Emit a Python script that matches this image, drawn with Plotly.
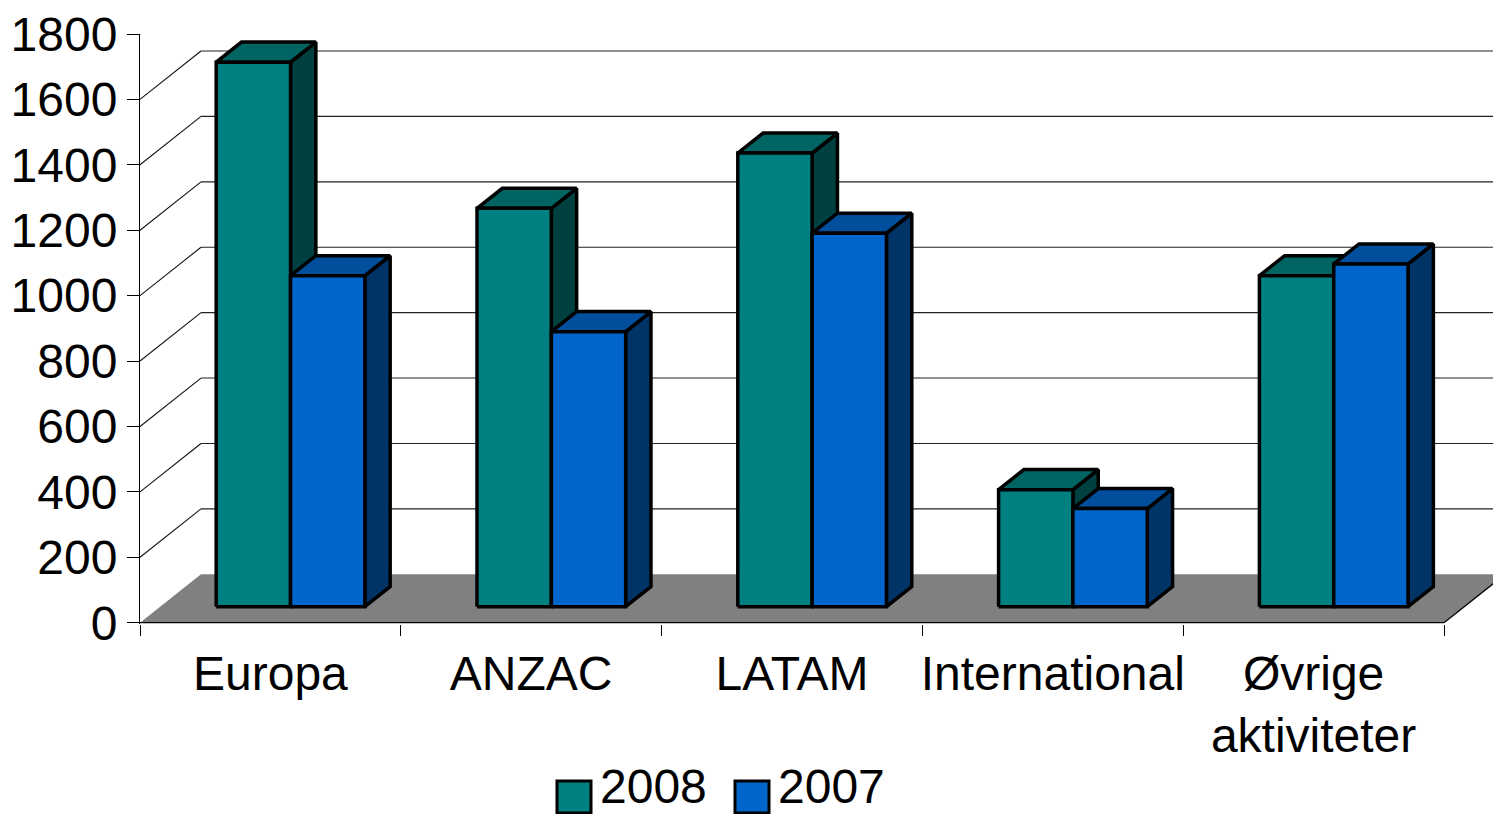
import plotly.graph_objects as go

# ---- data -------------------------------------------------------------
categories = ["Europa", "ANZAC", "LATAM", "International", "Øvrige<br>aktiviteter"]
series_names = ["2008", "2007"]
values_2008 = [1665, 1218, 1387, 358, 1012]
values_2007 = [1012, 841, 1142, 300, 1048]
y_tick_values = [0, 200, 400, 600, 800, 1000, 1200, 1400, 1600, 1800]

# ---- styling ------------------------------------------------------------
FONT = "Liberation Sans, Arial, sans-serif"
FACE_COLORS = {
    "2008": {"front": "#008080", "top": "#006462", "side": "#004040"},
    "2007": {"front": "#0066CC", "top": "#004E9C", "side": "#003366"},
}
FLOOR_COLOR = "#808080"
EDGE = "black"

# figure / plot-area geometry (pixels)
W, H = 1493, 814
M_L, M_T, M_B, M_R = 140, 34, 190, 0
PLOT_W = W - M_L - M_R
PLOT_H = H - M_T - M_B
CAT_PX = 260.8                      # width of one category slot
Y_MIN, Y_MAX = -4, 1800

# oblique depth offsets (in axis units) for full depth of the floor/walls
DEPTH_DX = 61 / CAT_PX
DEPTH_DY = 148
# bars occupy this depth band
BAR_D0, BAR_D1 = 0.33, 0.745
BAR_W = 0.285

X_MIN = -0.5
X_MAX = X_MIN + PLOT_W / CAT_PX


def proj(x, v, d):
    """Project a (category, value, depth) point onto the 2-D axes."""
    return x + d * DEPTH_DX, v + d * DEPTH_DY


def poly(points, fill, line_w=3.5, line_color=EDGE):
    xs, ys = zip(*[proj(*p) for p in points])
    xs = list(xs) + [xs[0]]
    ys = list(ys) + [ys[0]]
    return go.Scatter(
        x=xs, y=ys, mode="lines", fill="toself", fillcolor=fill,
        line=dict(color=line_color, width=line_w),
        hoverinfo="skip", showlegend=False,
    )


def segment(p0, p1, color=EDGE, width=1):
    a, b = proj(*p0), proj(*p1)
    return go.Scatter(
        x=[a[0], b[0]], y=[a[1], b[1]], mode="lines",
        line=dict(color=color, width=width),
        hoverinfo="skip", showlegend=False,
    )


traces = []

# floor
x_left, x_right = -0.5, len(categories) - 0.5
traces.append(poly([(x_left, 0, 0), (x_right, 0, 0), (x_right, 0, 1), (x_left, 0, 1)],
                   FLOOR_COLOR, line_w=0, line_color=FLOOR_COLOR))
traces.append(segment((x_left, 0, 0), (x_right, 0, 0), width=1.3))
traces.append(segment((x_right, 0, 0), (x_right, 0, 1), width=1.3))

# side-wall diagonals and back-wall gridlines
for v in y_tick_values[1:]:
    traces.append(segment((x_left, v, 0), (x_left, v, 1), color="#111111", width=1.1))
    traces.append(segment((x_left, v, 1), (x_right + 1, v, 1), color="#222222", width=1.1))

# bars, drawn left to right so nearer faces cover hidden ones
for i in range(len(categories)):
    for name, vals, x0 in (("2008", values_2008, i - BAR_W),
                           ("2007", values_2007, i)):
        h = vals[i]
        x1 = x0 + BAR_W
        c = FACE_COLORS[name]
        traces.append(poly([(x1, 0, BAR_D0), (x1, 0, BAR_D1), (x1, h, BAR_D1), (x1, h, BAR_D0)], c["side"]))
        traces.append(poly([(x0, h, BAR_D0), (x1, h, BAR_D0), (x1, h, BAR_D1), (x0, h, BAR_D1)], c["top"]))
        traces.append(poly([(x0, 0, BAR_D0), (x1, 0, BAR_D0), (x1, h, BAR_D0), (x0, h, BAR_D0)], c["front"]))

fig = go.Figure(traces)


# ---- legend (large swatches drawn as shapes) -------------------------------
def px_x(px):
    return (px - M_L) / PLOT_W


def px_y(py):
    return (H - M_B - py) / PLOT_H


legend_items = [("2008", 557), ("2007", 735)]
shapes = []
annotations = []
for name, left in legend_items:
    shapes.append(dict(
        type="rect", xref="paper", yref="paper",
        x0=px_x(left), x1=px_x(left + 34), y0=px_y(813), y1=px_y(781),
        fillcolor=FACE_COLORS[name]["front"], line=dict(color=EDGE, width=3),
        layer="above",
    ))
    annotations.append(dict(
        text=name, xref="paper", yref="paper", x=px_x(left + 42), y=px_y(H),
        xanchor="left", yanchor="bottom", showarrow=False, borderpad=0,
        font=dict(family=FONT, size=48, color="black"),
    ))

fig.update_layout(
    width=W, height=H,
    margin=dict(l=M_L, r=M_R, t=M_T, b=M_B, pad=0, autoexpand=False),
    paper_bgcolor="white", plot_bgcolor="white",
    showlegend=False,
    shapes=shapes, annotations=annotations,
    font=dict(family=FONT, size=48, color="black"),
    xaxis=dict(
        range=[X_MIN, X_MAX], showgrid=False, zeroline=False, showline=False,
        tickmode="array", tickvals=list(range(len(categories))), ticktext=categories,
        ticks="", ticklabelstandoff=17,
        tickfont=dict(family=FONT, size=48, color="black"),
        minor=dict(tickmode="array",
                   tickvals=[k - 0.5 for k in range(len(categories) + 1)],
                   ticks="outside", ticklen=11, tickcolor="black", tickwidth=1),
        fixedrange=True,
    ),
    yaxis=dict(
        range=[Y_MIN, Y_MAX], showgrid=False, zeroline=False,
        showline=True, linecolor="black", linewidth=1,
        tickmode="array", tickvals=y_tick_values,
        ticks="outside", ticklen=12, tickcolor="black", tickwidth=1,
        ticklabelstandoff=0,
        tickfont=dict(family=FONT, size=48, color="black"),
        fixedrange=True,
    ),
)

fig.write_html("out.html", config={"displayModeBar": False})
